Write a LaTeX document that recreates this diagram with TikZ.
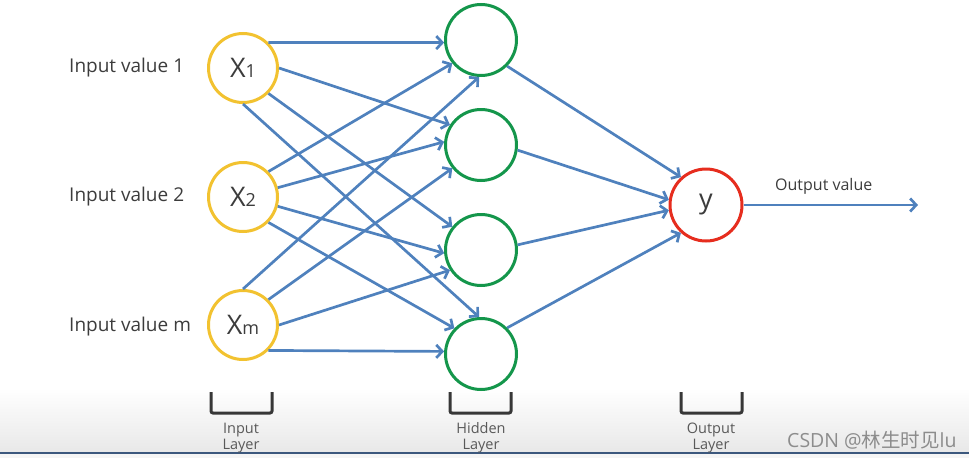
\documentclass[tikz,border=0pt]{standalone}
\usepackage{fontspec}
\setmainfont{Open Sans}
\newfontfamily\cjk{Noto Sans CJK SC}
\usetikzlibrary{arrows.meta}
\definecolor{edgeblue}{RGB}{79,129,189}
\definecolor{inyellow}{RGB}{242,194,48}
\definecolor{hidgreen}{RGB}{20,150,75}
\definecolor{outred}{RGB}{230,45,30}
\definecolor{txtgray}{RGB}{60,60,60}
\definecolor{brk}{RGB}{55,55,55}
\tikzset{
  innode/.style={circle,draw=inyellow,line width=3pt,fill=white,minimum size=69pt,inner sep=0pt,font=\fontsize{27}{28}\selectfont,text=txtgray},
  hidnode/.style={circle,draw=hidgreen,line width=3pt,fill=white,minimum size=71pt,inner sep=0pt},
  outnode/.style={circle,draw=outred,line width=3pt,fill=white,minimum size=72pt,inner sep=0pt,font=\fontsize{27}{28}\selectfont,text=txtgray},
  conn/.style={draw=edgeblue,line width=2.7pt,-{Straight Barb[length=6pt,width=13pt]}},
  sidelabel/.style={anchor=west,font=\fontsize{19}{22}\selectfont,text=txtgray,inner sep=0pt},
  layerlabel/.style={align=center,font=\fontsize{14.5}{16}\selectfont,text=black!65,inner sep=0pt},
  bracket/.style={draw=brk,line width=3pt,rounded corners=2pt}
}
\newcommand{\sublbl}[1]{{\fontsize{18}{18}\selectfont #1}}
\begin{document}
\begin{tikzpicture}[x=1pt,y=-1pt]
\useasboundingbox (0,0) rectangle (969,458);
% bottom band
\shade[top color=white,bottom color=black!9] (0,388) rectangle (969,452);
\fill[black!4] (0,452) rectangle (969,458);
\draw[draw={rgb,255:red,60;green,88;blue,125},line width=2pt] (0,453) -- (969,453);

% input nodes
\node[innode] (X1) at (243,68) {X\sublbl{1}};
\node[innode] (X2) at (243,197) {X\sublbl{2}};
\node[innode] (Xm) at (243,325) {X\sublbl{m}};
% hidden nodes
\node[hidnode] (H1) at (481,40) {};
\node[hidnode] (H2) at (481,145) {};
\node[hidnode] (H3) at (481,250) {};
\node[hidnode] (H4) at (481,354) {};
% output
\node[outnode] (Y) at (706,205) {y};
\coordinate (out) at (918,205);

% input labels
\node[sidelabel] (L1) at (69,68) {Input value 1};
\node[sidelabel] (L2) at (69,197) {Input value 2};
\node[sidelabel] (L3) at (69,327) {Input value m};
\node[anchor=west,font=\fontsize{16}{18}\selectfont,text=txtgray,inner sep=0pt] (LO) at (775,186) {Output value};

% connectors input -> hidden
\draw[conn] (X1.45) -- (H1.184);
\draw[conn] (X1.0) -- (H2.147);
\draw[conn] (X1.-45) -- (H3.141);
\draw[conn] (X1.-90) -- (H4.93);
\draw[conn] (X2.45) -- (H1.-141);
\draw[conn] (X2.15) -- (H2.175);
\draw[conn] (X2.-15) -- (H3.-175);
\draw[conn] (X2.-45) -- (H4.136);
\draw[conn] (Xm.90) -- (H1.-93);
\draw[conn] (Xm.45) -- (H2.-141);
\draw[conn] (Xm.0) -- (H3.-147);
\draw[conn] (Xm.-45) -- (H4.176);
% hidden -> output
\draw[conn] (H1.-45) -- (Y.132);
\draw[conn] (H2.-8) -- (Y.172);
\draw[conn] (H3.8) -- (Y.-172);
\draw[conn] (H4.45) -- (Y.-132);
\draw[conn] (Y.0) -- (out);

% brackets
\draw[bracket] (211,392) -- (211,413) -- (272,413) -- (272,392);
\draw[bracket] (450,392) -- (450,413) -- (511,413) -- (511,392);
\draw[bracket] (681,392) -- (681,413) -- (742,413) -- (742,392);
\node[layerlabel] (LI) at (241,438) {Input\\Layer};
\node[layerlabel] (LH) at (481,438) {Hidden\\Layer};
\node[layerlabel] (LY) at (711,438) {Output\\Layer};

% watermark
\node[anchor=west,inner sep=0pt,text=black!45,font=\fontsize{19.5}{20}\selectfont] (W) at (787,440) {CSDN @{\cjk 林生时见}lu};
\end{tikzpicture}
\end{document}
